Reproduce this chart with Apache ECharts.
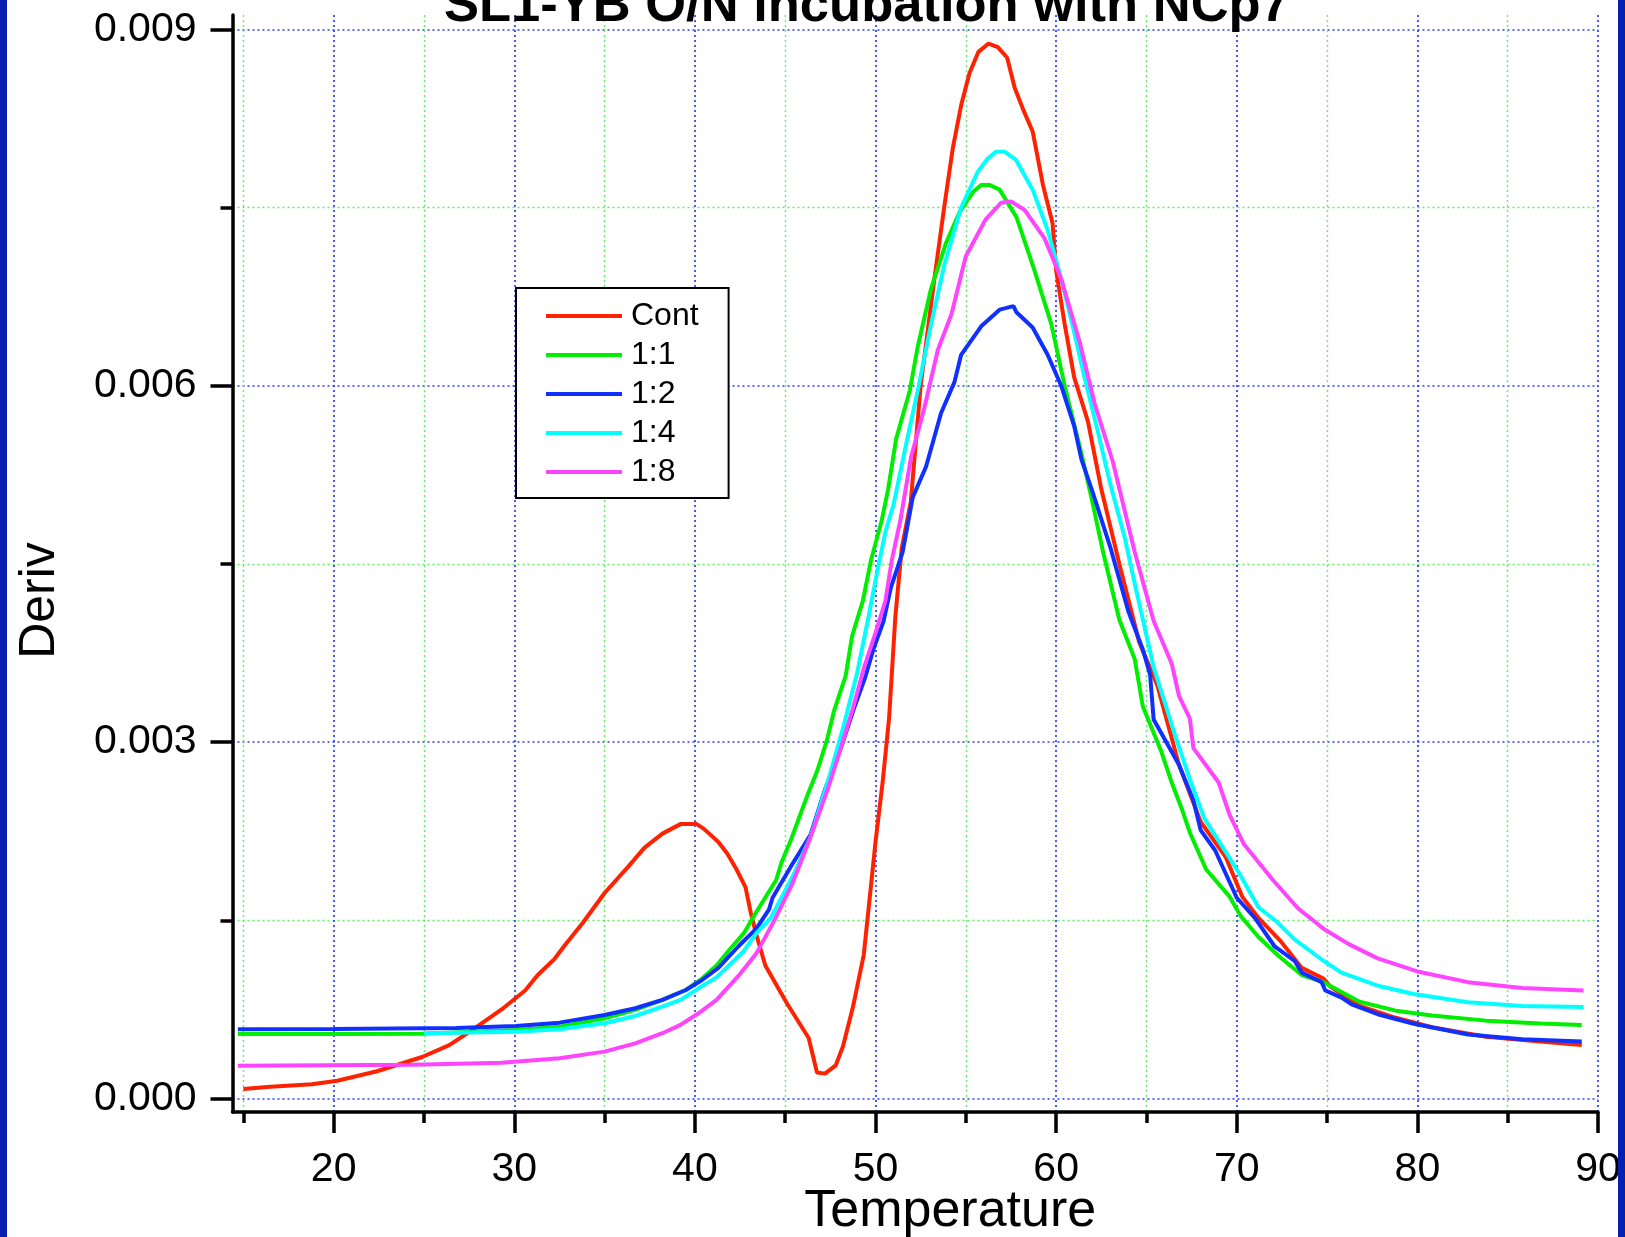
<!DOCTYPE html>
<html>
<head>
<meta charset="utf-8">
<script src="https://cdn.jsdelivr.net/npm/echarts@6/dist/echarts.min.js"></script>
<style>
html,body{margin:0;padding:0;background:#fff;}
#chart{width:1625px;height:1237px;}
</style>
</head>
<body>
<div id="chart"></div>
<script>
// ---- data ----
const titleText = 'SL1-YB O/N incubation with NCp7';
const seriesNames = ['Cont', '1:1', '1:2', '1:4', '1:8'];
const seriesColors = ['#ff2200', '#00ee00', '#1030ff', '#00ffff', '#ff44ff'];

const xMajorTicks = [20, 30, 40, 50, 60, 70, 80, 90];
const xMinorTicks = [15, 25, 35, 45, 55, 65, 75, 85];
const yMajorTicks = [0, 0.003, 0.006, 0.009];
const yMinorTicks = [0.0015, 0.0045, 0.0075];

const contData = [
  [15.0,0.00008],[16.5,0.00010],[18.8,0.00012],[20.2,0.00015],[22.4,0.00023],[24.9,0.00035],
  [26.4,0.00045],[27.8,0.00059],[29.3,0.00075],[30.6,0.00091],[31.3,0.00104],[32.2,0.00117],
  [32.8,0.00129],[33.8,0.00148],[35.0,0.00173],[36.3,0.00195],[37.2,0.00211],[38.2,0.00223],
  [39.2,0.00231],[40.1,0.00231],[40.5,0.00227],[41.3,0.00216],[41.8,0.00206],[42.3,0.00193],
  [42.8,0.00178],[43.1,0.00156],[43.4,0.00138],[43.9,0.00112],[45.1,0.00080],[46.3,0.00051],
  [46.76,0.00022],[47.2,0.00021],[47.8,0.00028],[48.2,0.00044],[48.75,0.00077],[49.35,0.00121],
  [50.0,0.00216],[50.4,0.00267],[50.75,0.00320],[51.1,0.00406],[51.45,0.00463],[51.95,0.00502],
  [52.5,0.00600],[53.26,0.00690],[53.8,0.00750],[54.28,0.00800],[54.74,0.00836],[55.2,0.00863],
  [55.7,0.00881],[56.26,0.00888],[56.77,0.00885],[57.29,0.00876],[57.7,0.00851],[58.16,0.00833],
  [58.7,0.00814],[59.27,0.00769],[59.8,0.00737],[60.0,0.00697],[60.47,0.00652],[61.0,0.00607],
  [61.76,0.00570],[62.5,0.00513],[63.5,0.00450],[64.6,0.00384],[65.6,0.00348],[66.8,0.00281],
  [68.0,0.00233],[69.4,0.00203],[70.3,0.00170],[71.2,0.00152],[72.4,0.00133],[73.6,0.00110],
  [74.8,0.00101],[75.2,0.00094],[76.8,0.00078],[78.8,0.00068],[80.8,0.00060],[83.8,0.00052],
  [86.8,0.00048],[89.1,0.00045]
];
const r11Data = [
  [14.7,0.000543],[20,0.000543],[24.9,0.000545],[30.1,0.000577],[32.5,0.000605],[35.0,0.000675],
  [36.7,0.000746],[38.2,0.00083],[39.5,0.000914],[40.4,0.00101],[41.2,0.00112],[41.9,0.00125],
  [42.7,0.00139],[43.4,0.00157],[44.5,0.00184],[44.8,0.00199],[45.3,0.00217],[46.2,0.00254],
  [46.8,0.00277],[47.3,0.00301],[47.7,0.00326],[48.35,0.00356],[48.7,0.00389],[49.3,0.00419],
  [49.75,0.00453],[50.35,0.00487],[50.7,0.00513],[51.14,0.00555],[51.9,0.00596],[52.34,0.00633],
  [53.08,0.00682],[53.9,0.0072],[54.65,0.00746],[55.4,0.00763],[55.85,0.00769],[56.3,0.00769],
  [56.87,0.00765],[57.8,0.00742],[58.8,0.00697],[59.73,0.00652],[60.47,0.006],[61.4,0.00543],
  [61.95,0.00506],[62.6,0.0046],[63.5,0.00403],[64.35,0.0037],[64.8,0.0033],[65.8,0.00293],
  [66.4,0.00266],[67.0,0.00242],[67.4,0.00224],[68.3,0.00193],[69.6,0.0017],[70.2,0.00154],
  [71.2,0.00136],[72.4,0.00119],[73.6,0.00104],[74.8,0.00098],[76.8,0.000815],[78.8,0.00074],
  [80.8,0.0007],[83.8,0.000656],[86.8,0.000631],[89.1,0.00062]
];
const r12Data = [
  [14.7,0.000583],[20,0.000585],[26.8,0.000594],[30.1,0.000611],[32.5,0.000639],[35.0,0.000703],
  [36.7,0.00076],[38.2,0.00083],[39.5,0.000914],[40.4,0.000998],[41.3,0.0011],[42.4,0.00128],
  [43.4,0.00143],[44.1,0.00159],[44.3,0.00169],[45.3,0.00195],[46.4,0.00222],[47.2,0.0026],
  [48.06,0.00294],[48.8,0.00328],[49.44,0.00355],[49.9,0.00379],[50.45,0.00402],[50.85,0.0043],
  [51.5,0.0046],[52.06,0.00506],[52.8,0.00532],[53.63,0.00577],[54.37,0.00603],[54.74,0.00626],
  [55.85,0.0065],[56.87,0.00664],[57.64,0.00667],[57.79,0.00662],[58.7,0.00649],[59.53,0.00626],
  [60.28,0.006],[61.0,0.00566],[61.4,0.00538],[62.03,0.0051],[63.0,0.00464],[64.0,0.0041],
  [64.8,0.00378],[65.2,0.00357],[65.4,0.00319],[66.8,0.00281],[67.6,0.00251],[68.0,0.00226],
  [68.8,0.00209],[70.0,0.00169],[71.0,0.00152],[72.1,0.00128],[73.2,0.00116],[73.6,0.00106],
  [74.7,0.00098],[74.9,0.00091],[75.8,0.00085],[76.4,0.00079],[77.8,0.00071],[79.8,0.00063],
  [82.8,0.00054],[85.8,0.0005],[89.1,0.00048]
];
const r14Data = [
  [25.0,0.00055],[30.1,0.000563],[32.5,0.000583],[35.0,0.000634],[36.7,0.000695],[38.2,0.000773],
  [39.2,0.00083],[40.2,0.000928],[41.2,0.00102],[42.7,0.00124],[43.4,0.00139],[44.2,0.00152],
  [45.45,0.00188],[46.4,0.0022],[46.67,0.00233],[47.5,0.00274],[48.24,0.00314],[48.98,0.00358],
  [49.62,0.00406],[50.09,0.00443],[50.55,0.00477],[51.0,0.005],[51.7,0.00551],[52.34,0.00596],
  [53.08,0.00652],[53.8,0.00701],[54.74,0.0075],[55.66,0.0078],[56.2,0.00791],[56.68,0.00797],
  [57.14,0.00797],[57.78,0.0079],[58.7,0.00765],[59.53,0.00731],[60.28,0.0069],[61.0,0.00645],
  [61.57,0.00607],[62.3,0.00562],[63.0,0.00517],[63.8,0.00472],[64.4,0.0043],[65.4,0.00363],
  [66.6,0.00305],[67.4,0.00269],[68.2,0.00236],[69.2,0.00212],[70.2,0.00188],[71.2,0.00161],
  [72.2,0.00149],[73.2,0.00134],[74.8,0.00116],[75.8,0.00106],[77.8,0.00095],[79.8,0.00088],
  [82.8,0.00081],[85.8,0.00078],[89.2,0.00077]
];
const r18Data = [
  [14.7,0.000277],[24.4,0.000285],[29.3,0.000302],[32.5,0.000339],[35.0,0.000395],[36.7,0.000465],
  [38.2,0.00055],[39.2,0.00062],[40.2,0.000718],[41.2,0.00083],[42.4,0.00103],[43.4,0.00122],
  [44.4,0.0015],[45.4,0.00181],[46.4,0.0022],[47.35,0.0026],[48.06,0.00294],[48.8,0.00331],
  [49.35,0.00362],[50.0,0.00392],[50.55,0.00419],[50.9,0.00453],[51.38,0.00487],[51.97,0.0054],
  [52.7,0.00581],[53.45,0.0063],[54.2,0.0066],[55.0,0.00709],[56.1,0.0074],[56.96,0.00754],
  [57.5,0.00755],[58.25,0.00748],[59.36,0.00724],[60.28,0.0069],[61.3,0.00637],[62.13,0.00585],
  [63.14,0.00536],[64.35,0.0046],[65.4,0.00402],[66.4,0.00366],[66.8,0.00339],[67.4,0.0032],
  [67.6,0.00295],[69.0,0.00266],[69.6,0.00239],[70.4,0.00214],[72.0,0.00184],[73.4,0.0016],
  [74.8,0.00143],[76.2,0.0013],[77.8,0.00118],[80.0,0.00107],[82.8,0.00098],[85.8,0.00093],
  [89.2,0.00091]
];
const allData = [contData, r11Data, r12Data, r14Data, r18Data];

// ---- chart ----
const FONT = "'Liberation Sans', Arial, sans-serif";
const chart = echarts.init(document.getElementById('chart'), null, {renderer: 'canvas'});
const X_MIN = 14.4, X_MAX = 90, Y_MIN = -0.000113, Y_MAX = 0.00912;
const blueGrid = {color: '#2a3cff', width: 1.7, type: [2, 3]};
const greenGrid = {color: '#5ff05f', width: 1.4, type: [2, 3]};

const option = {
  animation: false,
  backgroundColor: '#ffffff',
  title: {
    text: titleText,
    left: 444,
    top: -20,
    padding: 0,
    textStyle: {fontFamily: FONT, fontSize: 52.5, fontWeight: 'bold', color: '#000'}
  },
  graphic: [
    {type: 'rect', left: 0, top: 0, shape: {width: 7, height: 1237}, style: {fill: '#0a1eb0'}, z: 100},
    {type: 'rect', right: 0, top: 0, shape: {width: 7, height: 1237}, style: {fill: '#0a1eb0'}, z: 100}
  ],
  legend: {
    orient: 'vertical',
    left: 516,
    top: 288,
    padding: [12, 30, 10, 30],
    itemWidth: 76,
    itemHeight: 4,
    itemGap: 7,
    icon: 'rect',
    borderColor: '#000',
    borderWidth: 2,
    backgroundColor: '#fff',
    textStyle: {fontFamily: FONT, fontSize: 32, lineHeight: 32, color: '#000', padding: [0, 0, 0, 4]},
    data: seriesNames
  },
  grid: {left: 232.5, right: 27, top: 15, bottom: 125, containLabel: false, outerBoundsMode: 'none'},
  xAxis: [
    {
      type: 'value', min: X_MIN, max: X_MAX,
      name: 'Temperature', nameLocation: 'middle', nameGap: 74, nameMoveOverlap: false,
      nameTextStyle: {fontFamily: FONT, fontSize: 52, color: '#000', padding: [0, 0, 0, 70]},
      axisLine: {show: true, onZero: false, lineStyle: {color: '#000', width: 3.5}},
      axisTick: {show: true, length: 21, lineStyle: {color: '#000', width: 3.5}, customValues: xMajorTicks},
      axisLabel: {show: true, customValues: xMajorTicks, margin: 37, fontFamily: FONT, fontSize: 41, color: '#000'},
      splitLine: {show: true, lineStyle: blueGrid}
    },
    {
      type: 'value', min: X_MIN, max: X_MAX, position: 'bottom',
      axisLine: {show: false, onZero: false},
      axisTick: {show: true, length: 11, lineStyle: {color: '#000', width: 3.5}, customValues: xMinorTicks},
      axisLabel: {show: false},
      splitLine: {show: true, lineStyle: greenGrid}
    }
  ],
  yAxis: [
    {
      type: 'value', min: Y_MIN, max: Y_MAX,
      name: 'Deriv', nameLocation: 'middle', nameGap: 167, nameMoveOverlap: false,
      nameTextStyle: {fontFamily: FONT, fontSize: 50, color: '#000', padding: [0, 74, 0, 0]},
      axisLine: {show: true, onZero: false, lineStyle: {color: '#000', width: 3.5}},
      axisTick: {show: true, length: 22, lineStyle: {color: '#000', width: 3.5}, customValues: yMajorTicks},
      axisLabel: {show: true, customValues: yMajorTicks, margin: 36, fontFamily: FONT, fontSize: 41, color: '#000',
                  formatter: v => v.toFixed(3)},
      splitLine: {show: true, lineStyle: blueGrid}
    },
    {
      type: 'value', min: Y_MIN, max: Y_MAX, position: 'left',
      axisLine: {show: false, onZero: false},
      axisTick: {show: true, length: 12, lineStyle: {color: '#000', width: 3.5}, customValues: yMinorTicks},
      axisLabel: {show: false},
      splitLine: {show: true, lineStyle: greenGrid}
    }
  ],
  series: seriesNames.map((name, i) => ({
    name: name,
    type: 'line',
    xAxisIndex: 0,
    yAxisIndex: 0,
    data: allData[i],
    symbol: 'none',
    smooth: false,
    color: seriesColors[i],
    lineStyle: {color: seriesColors[i], width: 4},
    z: 3 + i
  }))
};
chart.setOption(option);
</script>
</body>
</html>
